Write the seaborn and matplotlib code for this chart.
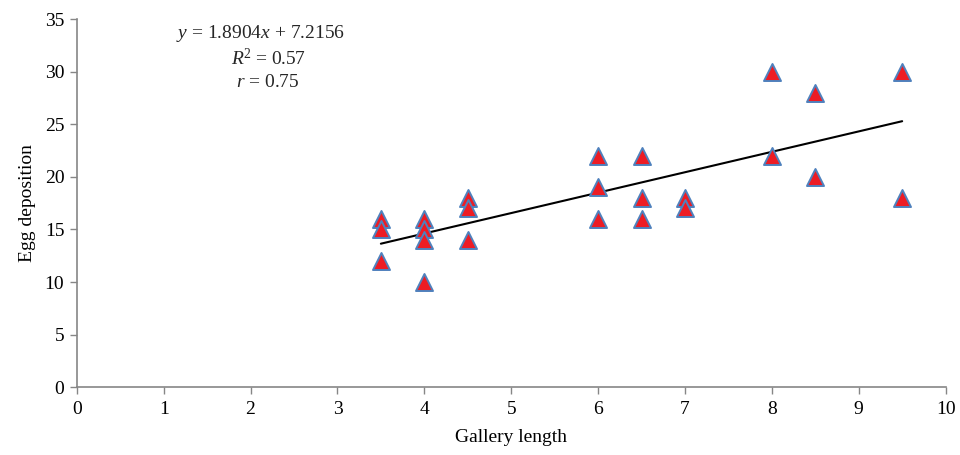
import pandas as pd
import seaborn as sns
import matplotlib.pyplot as plt

gallery_length = [3.5, 3.5, 3.5,
                  4, 4, 4, 4,
                  4.5, 4.5, 4.5,
                  6, 6, 6,
                  6.5, 6.5, 6.5,
                  7, 7,
                  8, 8,
                  8.5, 8.5,
                  9.5, 9.5]
egg_deposition = [16, 15, 12,
                  16, 15, 14, 10,
                  18, 17, 14,
                  22, 19, 16,
                  22, 18, 16,
                  18, 17,
                  30, 22,
                  28, 20,
                  30, 18]
x_ticks = list(range(0, 11))
y_ticks = list(range(0, 36, 5))

df = pd.DataFrame({"Gallery length": gallery_length, "Egg deposition": egg_deposition})

sns.set_style("white")
plt.rcParams["font.family"] = ["Liberation Serif", "DejaVu Serif"]
plt.rcParams["mathtext.fontset"] = "custom"
plt.rcParams["mathtext.rm"] = "Liberation Serif"
plt.rcParams["mathtext.it"] = "Liberation Serif:italic"

fig = plt.figure(figsize=(9.6, 4.55), dpi=100)
ax = fig.add_axes([0.080, 0.149, 0.905, 0.809])

sns.scatterplot(data=df, x="Gallery length", y="Egg deposition", ax=ax,
                marker="^", s=150, color="#ED1C24", edgecolor="#4F81BD",
                linewidth=1.4, zorder=3)
sns.regplot(data=df, x="Gallery length", y="Egg deposition", ax=ax,
            scatter=False, ci=None, truncate=True,
            line_kws={"color": "black", "lw": 1.5, "zorder": 2})

ax.set_xlim(0, 10)
ax.set_ylim(0, 35)
ax.set_xticks(x_ticks)
ax.set_yticks(y_ticks)
ax.tick_params(axis="both", labelsize=14, length=5, width=1, color="#868686",
               labelcolor="black", direction="out", bottom=True, left=True)
ax.tick_params(axis="x", pad=5)
ax.tick_params(axis="y", pad=4)
for s in ["top", "right"]:
    ax.spines[s].set_visible(False)
for s in ["left", "bottom"]:
    ax.spines[s].set_color("#868686")
    ax.spines[s].set_linewidth(1.2)

ax.set_xlabel("Gallery length", fontsize=14, labelpad=8, color="black")
ax.set_ylabel("Egg deposition", fontsize=14, labelpad=6, color="black")

ax.text(2.11, 33.6, "$y$ = 1.8904$x$ + 7.2156", ha="center", va="center", fontsize=14)
ax.text(2.2, 31.3, "$R$$^2$ = 0.57", ha="center", va="center", fontsize=14)
ax.text(2.2, 29.0, "$r$ = 0.75", ha="center", va="center", fontsize=14)

plt.savefig("out.png", dpi=100)
